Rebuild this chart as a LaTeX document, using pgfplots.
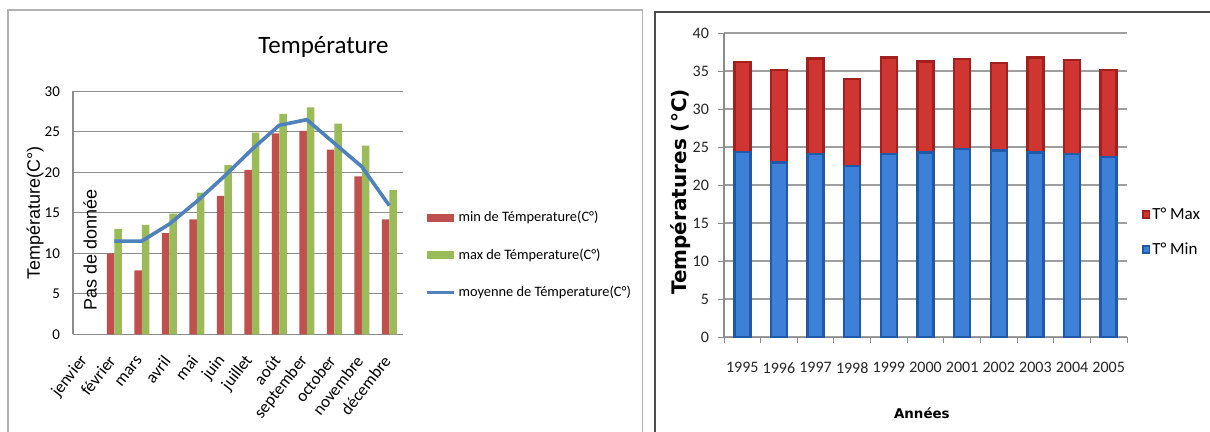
\documentclass[border=0pt]{standalone}
\usepackage{fontspec}
\setmainfont{Carlito}
\newfontfamily\arialf{Liberation Sans}
\newfontfamily\dejavu{DejaVu Sans}
\usepackage{pgfplots}
\usepackage{pgfplotstable}
\pgfplotsset{compat=1.18}

\definecolor{cred}{HTML}{C0504D}
\definecolor{cgreen}{HTML}{9BBB59}
\definecolor{cblue}{HTML}{4F81BD}
\definecolor{bdark}{HTML}{2159AA}
\definecolor{blight}{HTML}{3C80D8}
\definecolor{rdark}{HTML}{A3201F}
\definecolor{rlight}{HTML}{CF3531}
\definecolor{gridc}{HTML}{8C8C8C}

\pgfplotstableread{
x min max
1 10.0 13.0
2 7.9 13.5
3 12.5 14.9
4 14.2 17.5
5 17.1 20.9
6 20.3 24.9
7 24.8 27.2
8 25.1 28.0
9 22.8 26.0
10 19.5 23.3
11 14.2 17.8
}\monthdata

\pgfplotstableread{
x mean
1 11.5
2 11.5
3 13.6
4 16.4
5 19.5
6 22.8
7 25.8
8 26.5
9 23.6
10 20.7
11 15.9
}\meandata

\pgfplotstableread{
x tmin tmax
0 24.4 11.8
1 23.0 12.2
2 24.1 12.6
3 22.5 11.5
4 24.1 12.7
5 24.3 12.0
6 24.8 11.8
7 24.6 11.5
8 24.3 12.5
9 24.1 12.4
10 23.7 11.5
}\yeardata

\begin{document}
\begin{tikzpicture}
\path[use as bounding box] (0,0) rectangle (605pt,216pt);
\fill[white] (0,0) rectangle (605pt,216pt);
\draw[color=black!30, line width=0.75pt] (4pt,-2pt) -- (4pt,211pt) -- (321.25pt,211pt) -- (321.25pt,-2pt);
\draw[color=black!70, line width=0.6pt] (327.5pt,-2pt) -- (327.5pt,210pt) -- (607pt,210pt);

% ---------------- left chart ----------------
\begin{axis}[
  at={(36.5pt,48.85pt)}, anchor=south west,
  scale only axis, width=165pt, height=121.5pt,
  xmin=-0.5, xmax=11.5, ymin=0, ymax=30,
  ytick={0,5,...,30},
  xtick={0,...,11},
  xticklabels={jenvier,février,mars,avril,mai,juin,juillet,août,september,october,novembre,décembre},
  axis x line*=bottom, axis y line*=left,
  axis line style={gridc, line width=0.6pt, -},
  ymajorgrids, grid style={gridc, line width=0.5pt},
  major tick length=0pt,
  /pgf/number format/assume math mode=true,
  tick label style={font=\fontsize{7.5}{8}\selectfont},
  yticklabel style={xshift=-3pt},
  xticklabel style={xshift=1pt, yshift=-9pt, rotate=52, anchor=east, font=\fontsize{8.5}{9}\selectfont},
  every axis y label/.style={at={(axis description cs:-0.115,0.5)}, rotate=90, anchor=center, font=\arialf\fontsize{9}{10}\selectfont},
  ylabel={Température(C°)},
  title={Température},
  title style={at={(axis description cs:0.759,1.135)}, anchor=center, yshift=0pt, font=\fontsize{12.5}{14}\selectfont},
  legend style={at={(axis description cs:1.067,0.325)}, anchor=west, draw=none, fill=none,
    font=\fontsize{7.2}{8}\selectfont, row sep=9pt, inner sep=0pt,
    nodes={inner sep=1.5pt}},
  legend cell align=left,
  clip=false,
]
\addplot[ybar, bar width=3.75pt, bar shift=-1.875pt, fill=cred, draw=none,
  legend image code/.code={\fill[cred] (0pt,-2pt) rectangle (13.5pt,2pt);}]
  table[x=x, y=min] {\monthdata};
\addlegendentry{min de Témperature(C°)}
\addplot[ybar, bar width=3.75pt, bar shift=1.875pt, fill=cgreen, draw=none,
  legend image code/.code={\fill[cgreen] (0pt,-2pt) rectangle (13.5pt,2pt);}]
  table[x=x, y=max] {\monthdata};
\addlegendentry{max de Témperature(C°)}
\addplot[sharp plot, no marks, color=cblue, line width=1.8pt,
  legend image code/.code={\draw[cblue, line width=1.5pt] (0pt,0pt) -- (13.5pt,0pt);}]
  table[x=x, y=mean] {\meandata};
\addlegendentry{moyenne de Témperature(C°)}
\node[rotate=90, font=\arialf\fontsize{9}{10}\selectfont] at (axis cs:0.118,10.4) {Pas de donnée};
\end{axis}

% ---------------- right chart ----------------
\begin{axis}[
  at={(362pt,47.35pt)}, anchor=south west,
  scale only axis, width=201.5pt, height=152pt,
  ybar stacked, bar width=8pt,
  xmin=-0.5, xmax=10.5, ymin=0, ymax=40,
  ytick={0,5,...,40},
  xtick={-0.5,0.5,...,10.5}, xticklabels={},
  extra x ticks={0,...,10},
  extra x tick labels={1995,1996,1997,1998,1999,2000,2001,2002,2003,2004,2005},
  extra x tick style={grid=none, tick style={draw=none}},
  axis x line*=bottom, axis y line*=left,
  axis line style={black!45, line width=0.6pt, -},
  ymajorgrids, grid style={black!38, line width=0.9pt},
  tick align=outside, major tick length=3pt,
  tick style={black!45, line width=0.5pt},
  /pgf/number format/assume math mode=true,
  tick label style={font=\fontsize{8}{9}\selectfont, black!85},
  yticklabel style={xshift=-1pt},
  xticklabel style={yshift=-6pt},
  every axis y label/.style={at={(axis description cs:-0.109,0.478)}, rotate=90, anchor=center, font=\dejavu\bfseries\fontsize{10}{11}\selectfont},
  ylabel={Températures (°C)},
  every axis x label/.style={at={(axis description cs:0.491,-0.249)}, anchor=center, font=\dejavu\bfseries\fontsize{6.7}{8}\selectfont},
  xlabel={Années},
  legend style={at={(axis description cs:1.037,0.345)}, anchor=west, draw=none, fill=none,
    font=\fontsize{8.5}{9}\selectfont, row sep=8pt, inner sep=0pt, nodes={inner sep=1pt}},
  legend cell align=left,
  reverse legend,
]
\addplot[fill=blight, draw=bdark, line width=1.2pt,
  legend image code/.code={\fill[blight, draw=bdark, line width=0.8pt] (0.4pt,-1.6pt) rectangle (3.6pt,2pt);}]
  table[x=x, y=tmin] {\yeardata};
\addlegendentry{T° Min}
\addplot[fill=rlight, draw=rdark, line width=1.2pt,
  legend image code/.code={\fill[rlight, draw=rdark, line width=0.8pt] (0.4pt,-1.6pt) rectangle (3.6pt,2pt);}]
  table[x=x, y=tmax] {\yeardata};
\addlegendentry{T° Max}
\end{axis}
\end{tikzpicture}
\end{document}
